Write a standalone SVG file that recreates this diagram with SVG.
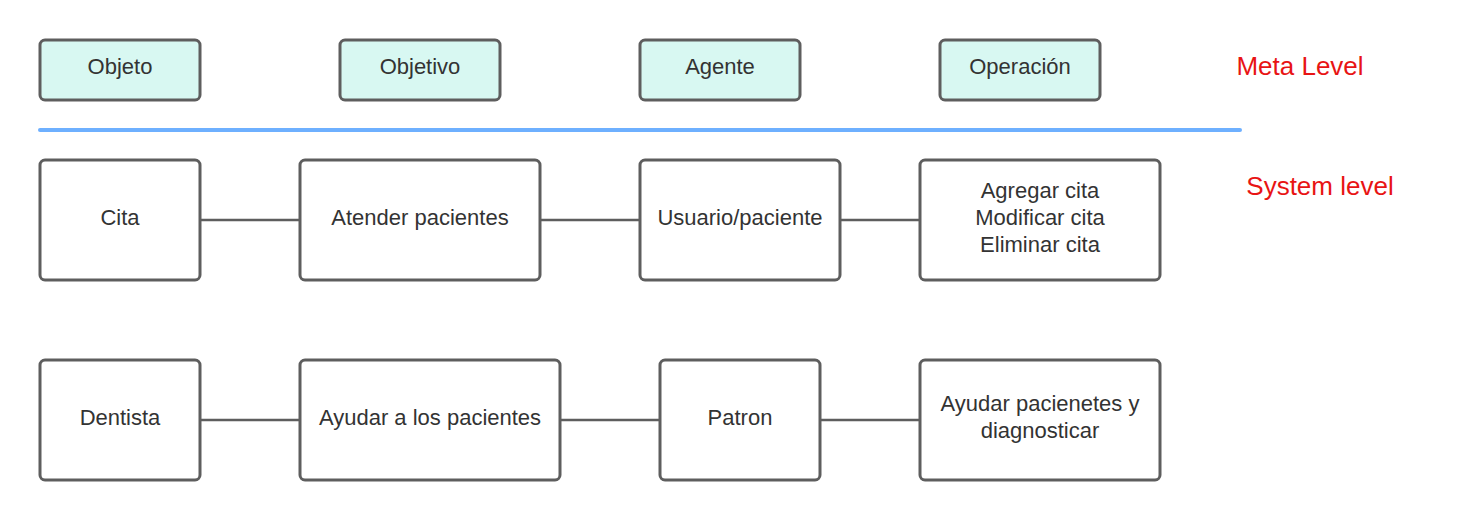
<svg xmlns="http://www.w3.org/2000/svg" width="1480" height="520" viewBox="0 0 1480 520">
<style>
.box{fill:#ffffff;stroke:#5e5e5e;stroke-width:3}
.meta{fill:#d8f8f2;stroke:#5e5e5e;stroke-width:3}
.t{font-family:"Liberation Sans",Arial,sans-serif;font-size:22px;fill:#333333;text-anchor:middle}
.red{font-family:"Liberation Sans",Arial,sans-serif;font-size:26px;fill:#e81414;text-anchor:middle}
.c{stroke:#5e5e5e;stroke-width:2.5;fill:none}
</style>
<rect width="1480" height="520" fill="#ffffff"/>
<g id="meta-objeto"><rect class="meta" x="40" y="40" width="160" height="60" rx="5"/><text class="t" x="120" y="74">Objeto</text></g>
<g id="meta-objetivo"><rect class="meta" x="340" y="40" width="160" height="60" rx="5"/><text class="t" x="420" y="74">Objetivo</text></g>
<g id="meta-agente"><rect class="meta" x="640" y="40" width="160" height="60" rx="5"/><text class="t" x="720" y="74">Agente</text></g>
<g id="meta-operacion"><rect class="meta" x="940" y="40" width="160" height="60" rx="5"/><text class="t" x="1020" y="74">Operación</text></g>
<g id="label-meta"><text class="red" x="1300" y="75">Meta Level</text></g>
<g id="label-system"><text class="red" x="1320" y="195">System level</text></g>
<g id="divider"><line x1="40" y1="130" x2="1240" y2="130" stroke="#6eb0ff" stroke-width="4" stroke-linecap="round"/></g>
<g id="connectors">
<line class="c" x1="200" y1="220" x2="300" y2="220"/>
<line class="c" x1="540" y1="220" x2="640" y2="220"/>
<line class="c" x1="840" y1="220" x2="920" y2="220"/>
<line class="c" x1="200" y1="420" x2="300" y2="420"/>
<line class="c" x1="560" y1="420" x2="660" y2="420"/>
<line class="c" x1="820" y1="420" x2="920" y2="420"/>
</g>
<g id="cita"><rect class="box" x="40" y="160" width="160" height="120" rx="5"/><text class="t" x="120" y="225">Cita</text></g>
<g id="atender"><rect class="box" x="300" y="160" width="240" height="120" rx="5"/><text class="t" x="420" y="225">Atender pacientes</text></g>
<g id="usuario"><rect class="box" x="640" y="160" width="200" height="120" rx="5"/><text class="t" x="740" y="225">Usuario/paciente</text></g>
<g id="ops"><rect class="box" x="920" y="160" width="240" height="120" rx="5"/><text class="t" x="1040" y="198">Agregar cita</text><text class="t" x="1040" y="225">Modificar cita</text><text class="t" x="1040" y="252">Eliminar cita</text></g>
<g id="dentista"><rect class="box" x="40" y="360" width="160" height="120" rx="5"/><text class="t" x="120" y="425">Dentista</text></g>
<g id="ayudar"><rect class="box" x="300" y="360" width="260" height="120" rx="5"/><text class="t" x="430" y="425">Ayudar a los pacientes</text></g>
<g id="patron"><rect class="box" x="660" y="360" width="160" height="120" rx="5"/><text class="t" x="740" y="425">Patron</text></g>
<g id="diag"><rect class="box" x="920" y="360" width="240" height="120" rx="5"/><text class="t" x="1040" y="411">Ayudar pacienetes y</text><text class="t" x="1040" y="438">diagnosticar</text></g>
</svg>
